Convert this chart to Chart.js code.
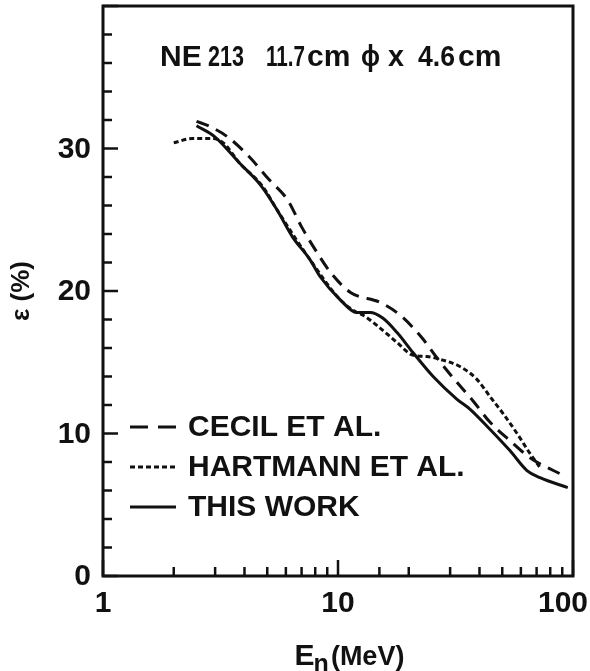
<!DOCTYPE html>
<html>
<head>
<meta charset="utf-8">
<script src="https://cdn.jsdelivr.net/npm/chart.js@4.4.1/dist/chart.umd.min.js"></script>
<style>
  html, body { margin: 0; padding: 0; background: #ffffff; }
  #wrap { width: 590px; height: 671px; }
</style>
</head>
<body>
<div id="wrap"><canvas id="c" width="590" height="671"></canvas></div>
<script>
// ---- data ----
const thisWorkE   = [2.5, 3.0, 3.8, 4.7, 5.5, 6.4, 7.6, 8.4, 10.2, 12.0, 13.7, 15.5, 17.8, 20.8, 25.4, 32.1, 36.5, 44.3, 53.9, 63.7, 72.4, 95];
const thisWorkEff = [31.6, 30.8, 29.0, 27.4, 25.7, 23.8, 22.2, 21.0, 19.4, 18.5, 18.5, 18.1, 17.1, 15.7, 14.0, 12.4, 11.7, 10.3, 8.8, 7.4, 6.9, 6.2];

const cecilE   = [2.5, 2.8, 3.4, 4.2, 5.1, 6.1, 7.0, 8.0, 9.3, 11.3, 15.1, 18.4, 22.8, 26.4, 30.9, 37.5, 44.3, 53.9, 65.6, 92.5];
const cecilEff = [31.9, 31.6, 30.8, 29.4, 27.8, 26.4, 24.5, 22.9, 21.3, 19.9, 19.2, 18.3, 16.7, 15.3, 13.9, 12.3, 10.8, 9.5, 8.3, 7.0];

const hartmannE   = [2.0, 2.4, 2.9, 3.25, 3.8, 4.8, 5.5, 7.6, 10.2, 12.0, 12.8, 15.1, 17.8, 20.8, 23.9, 27.2, 33.0, 39.0, 44.3, 50.4, 57.8, 65.6, 72.4];
const hartmannEff = [30.4, 30.7, 30.7, 30.4, 29.0, 27.3, 25.7, 22.2, 19.4, 18.5, 18.3, 17.4, 16.4, 15.5, 15.4, 15.2, 14.7, 13.8, 12.6, 11.4, 10.0, 8.6, 7.6];

const xTickLabels = [1, 10, 100];
const yTickLabels = [0, 10, 20, 30];
const seriesNames = ['CECIL ET AL.', 'HARTMANN ET AL.', 'THIS WORK'];
const titleWords = ['NE', '213', '11.7', 'cm', '\u03D5', 'x', '4.6', 'cm'];
const yAxisTitle = '\u03B5 (%)';

// ---- build ----
const pts = (xs, ys) => xs.map((v, i) => ({ x: v, y: ys[i] }));
const INK = '#111111';
const REG = "'Liberation Sans', 'DejaVu Sans', sans-serif";

const styles = [ { dash: [13, 8] }, { dash: [5, 3] }, { dash: [] } ];
// layout of the in-plot title words: [left x, max width]
const titleBoxes = [[160, 47], [208, 36], [266, 39], [307, 46], [361, 19], [388, 16], [418, 37], [458, 46]];

const decor = {
  id: 'decor',
  afterDraw(chart) {
    const { ctx, chartArea: a, scales: { x, y } } = chart;
    ctx.save();
    ctx.strokeStyle = INK;
    ctx.fillStyle = INK;
    ctx.setLineDash([]);
    // frame
    ctx.lineWidth = 3;
    ctx.strokeRect(a.left, a.top, a.right - a.left, a.bottom - a.top);
    // y ticks (inward)
    ctx.lineWidth = 2.5;
    y.ticks.forEach(t => {
      const py = y.getPixelForValue(t.value);
      const len = (t.value % 10 === 0) ? 15 : 9;
      ctx.beginPath(); ctx.moveTo(a.left, py); ctx.lineTo(a.left + len, py); ctx.stroke();
    });
    // x ticks (inward)
    x.ticks.forEach(t => {
      const v = t.value;
      const px = x.getPixelForValue(v);
      const lg = Math.log10(v);
      const major = Math.abs(lg - Math.round(lg)) < 1e-6;
      const len = major ? 16 : 9;
      ctx.beginPath(); ctx.moveTo(px, a.bottom); ctx.lineTo(px, a.bottom - len); ctx.stroke();
    });
    // y tick labels
    ctx.font = "bold 30px " + REG;
    ctx.textBaseline = 'middle';
    ctx.textAlign = 'right';
    yTickLabels.forEach(v => {
      ctx.fillText(String(v), a.left - 12, y.getPixelForValue(v) + 1);
    });
    // x tick labels
    ctx.textAlign = 'left';
    xTickLabels.forEach(v => {
      const px = x.getPixelForValue(v);
      const s = String(v);
      const w = ctx.measureText(s).width;
      let left = px - w / 2;
      if (left + w > chart.width - 2) left = chart.width - 2 - w;
      ctx.fillText(s, left, 604);
    });
    // x axis title: E_n (MeV)
    const cx = (a.left + a.right) / 2 + 12;
    ctx.textBaseline = 'alphabetic';
    ctx.font = "bold 30px " + REG;
    const wE = ctx.measureText('E').width;
    ctx.font = "bold 25px " + REG;
    const wn = ctx.measureText('n').width;
    ctx.font = "bold 27px " + REG;
    const wM = ctx.measureText('(MeV)').width;
    let sx = cx - (wE + wn + wM + 2) / 2;
    ctx.font = "bold 30px " + REG;
    ctx.fillText('E', sx, 665);
    ctx.font = "bold 25px " + REG;
    ctx.fillText('n', sx + wE - 1, 672);
    ctx.font = "bold 27px " + REG;
    ctx.fillText('(MeV)', sx + wE + wn + 1, 665);
    // title inside plot
    ctx.font = "bold 30px " + REG;
    ctx.textBaseline = 'middle';
    titleWords.forEach((w, i) => {
      ctx.fillText(w, titleBoxes[i][0], 58, titleBoxes[i][1]);
    });
    // legend
    const legY = [427, 467, 507];
    chart.data.datasets.forEach((ds, i) => {
      ctx.lineWidth = 3;
      ctx.setLineDash(i === 0 ? [18, 10] : ds.borderDash);
      ctx.beginPath(); ctx.moveTo(130, legY[i]); ctx.lineTo(176, legY[i]); ctx.stroke();
      ctx.setLineDash([]);
      ctx.font = "bold 30px " + REG;
      ctx.fillText(ds.label, 188, legY[i] + 1);
    });
    ctx.restore();
  }
};

new Chart(document.getElementById('c'), {
  type: 'line',
  data: {
    datasets: [
      { label: seriesNames[0], data: pts(cecilE, cecilEff) },
      { label: seriesNames[1], data: pts(hartmannE, hartmannEff) },
      { label: seriesNames[2], data: pts(thisWorkE, thisWorkEff) }
    ].map((d, i) => Object.assign(d, {
      borderColor: INK,
      borderWidth: 3,
      borderDash: styles[i].dash,
      pointRadius: 0,
      fill: false,
      cubicInterpolationMode: 'monotone',
      borderCapStyle: 'butt'
    }))
  },
  options: {
    responsive: false,
    animation: false,
    layout: { padding: { top: 6, right: 17, left: 0, bottom: 0 } },
    plugins: { legend: { display: false }, tooltip: { enabled: false }, title: { display: false } },
    scales: {
      x: {
        type: 'logarithmic', min: 1, max: 100,
        grid: { display: false, drawTicks: false },
        border: { display: false },
        ticks: { display: false },
        afterFit: s => { s.height = 95; }
      },
      y: {
        min: 0, max: 40,
        grid: { display: false, drawTicks: false },
        border: { display: false },
        ticks: { display: false, stepSize: 2 },
        title: {
          display: true, text: yAxisTitle, color: INK,
          font: { family: REG, size: 26, weight: 'bold' },
          padding: { top: 6, bottom: 0 }
        },
        afterFit: s => { s.width = 103; }
      }
    }
  },
  plugins: [decor]
});
</script>
</body>
</html>
